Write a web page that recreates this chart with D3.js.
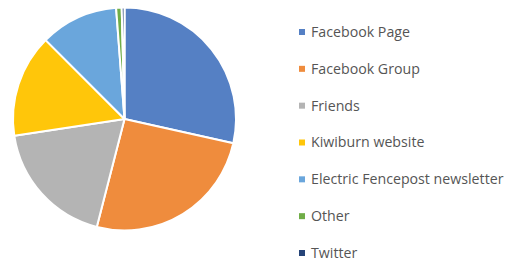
<!DOCTYPE html>
<html lang="en">
<head>
<meta charset="UTF-8">
<title>Sources</title>
<style>
  body { margin: 0; background: #fff; }
  .legend text { font-family: "Open Sans", sans-serif; font-size: 14.2px; fill: #555; }
</style>
</head>
<body>
<svg width="510" height="262"></svg>
<script src="https://d3js.org/d3.v7.min.js"></script>
<script>
var categories = ["Facebook Page", "Facebook Group", "Friends", "Kiwiburn website",
                  "Electric Fencepost newsletter", "Other", "Twitter"];
var values = [28.5, 25.5, 18.6, 14.9, 11.3, 0.8, 0.4];
var colors = ["#5580c4", "#ef8c3d", "#b4b4b4", "#ffc60a", "#6aa6dc", "#70ad47", "#264478"];

var svg = d3.select("svg");
var data = categories.map(function(c, i) { return {name: c, value: values[i]}; });

var color = d3.scaleOrdinal().domain(categories).range(colors);

var pie = d3.pie().sort(null).value(function(d) { return d.value; });
var arc = d3.arc().innerRadius(0).outerRadius(111.5);

var g = svg.append("g").attr("transform", "translate(124.5,119)");

g.selectAll("path")
  .data(pie(data))
  .enter().append("path")
    .attr("d", arc)
    .attr("fill", function(d) { return color(d.data.name); })
    .attr("stroke", "#fff")
    .attr("stroke-width", 2)
    .attr("stroke-linejoin", "round");

// legend
var ly = d3.scalePoint().domain(categories).range([32, 253]);

var legend = svg.append("g").attr("class", "legend")
  .selectAll("g")
  .data(categories)
  .enter().append("g")
    .attr("transform", function(d) { return "translate(299," + ly(d) + ")"; });

legend.append("rect")
    .attr("x", 0).attr("y", -3)
    .attr("width", 6).attr("height", 6)
    .attr("fill", function(d) { return color(d); });

legend.append("text")
    .attr("x", 12)
    .attr("dy", "0.35em")
    .text(function(d) { return d; });
</script>
</body>
</html>
